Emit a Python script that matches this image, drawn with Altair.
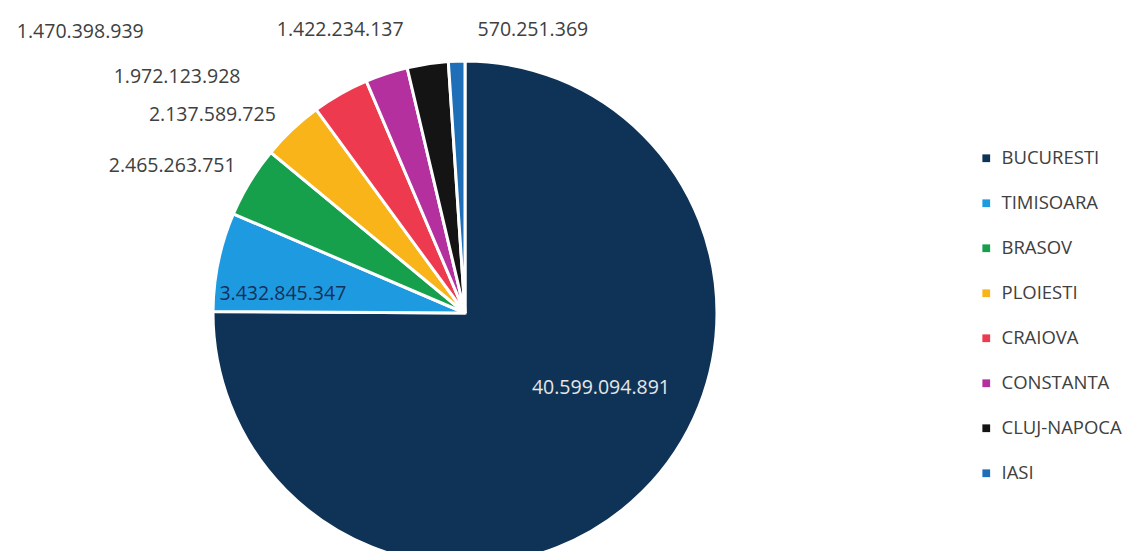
import math
import altair as alt
import pandas as pd

cities = ["BUCURESTI", "TIMISOARA", "BRASOV", "PLOIESTI", "CRAIOVA",
          "CONSTANTA", "CLUJ-NAPOCA", "IASI"]
values = [40599094891, 3432845347, 2465263751, 2137589725, 1972123928,
          1470398939, 1422234137, 570251369]
labels = ["40.599.094.891", "3.432.845.347", "2.465.263.751", "2.137.589.725",
          "1.972.123.928", "1.470.398.939", "1.422.234.137", "570.251.369"]
colors = ["#0f3356", "#1e9be0", "#16a04c", "#f8b418", "#ee3a4e",
          "#b3309e", "#141414", "#1f6fb8"]

df = pd.DataFrame({"city": cities, "value": values, "label": labels,
                   "order": list(range(len(cities)))})
total = sum(values)

CX, CY, R = 457, 305, 252
FONT = "Open Sans"

pie = alt.Chart(df).mark_arc(outerRadius=R, stroke="white", strokeWidth=3).encode(
    theta=alt.Theta("value:Q"),
    order=alt.Order("order:Q"),
    color=alt.Color(
        "city:N",
        scale=alt.Scale(domain=cities, range=colors),
        legend=alt.Legend(
            orient="none", legendX=969, legendY=141, title=None,
            symbolType="square", symbolSize=60, symbolStrokeWidth=0,
            labelFontSize=18.5, labelFont=FONT, labelColor="#404040",
            rowPadding=26, labelOffset=6,
        ),
    ),
    x=alt.value(CX),
    y=alt.value(CY),
)

# label placement: (radius, dx, dy, color)
label_style = {
    "BUCURESTI": (180, 9, -53, "#e6e6e6"),
    "TIMISOARA": (185, -1, 19, "#15305a"),
    "BRASOV": (275, -58, -4, "#404040"),
    "PLOIESTI": (275, -64, 2, "#404040"),
    "CRAIOVA": (275, -152, 3, "#404040"),
    "CONSTANTA": (275, -299, -20, "#404040"),
    "CLUJ-NAPOCA": (275, -84, -11, "#404040"),
    "IASI": (275, 77, -8, "#404040"),
}

base = alt.Chart(df).transform_window(
    cum="sum(value)", sort=[alt.SortField("order")]
).transform_calculate(mid="datum.cum - datum.value / 2")

layers = [pie]
for c in cities:
    r, dx, dy, col = label_style[c]
    layers.append(
        base.transform_filter(alt.datum.city == c).mark_text(
            radius=r, dx=dx, dy=dy, font=FONT, fontSize=19.5, color=col,
            align="center", baseline="middle",
        ).encode(
            theta=alt.Theta("mid:Q", stack=None,
                            scale=alt.Scale(domain=[0, total], range=[0, 2 * math.pi])),
            text="label:N",
            x=alt.value(CX),
            y=alt.value(CY),
        )
    )

chart = alt.layer(*layers).properties(
    width=1123, height=543, autosize="none", padding=0
).configure_view(stroke=None).resolve_scale(theta="independent")

chart.save("out.html", embed_options={"renderer": "svg", "actions": False})
